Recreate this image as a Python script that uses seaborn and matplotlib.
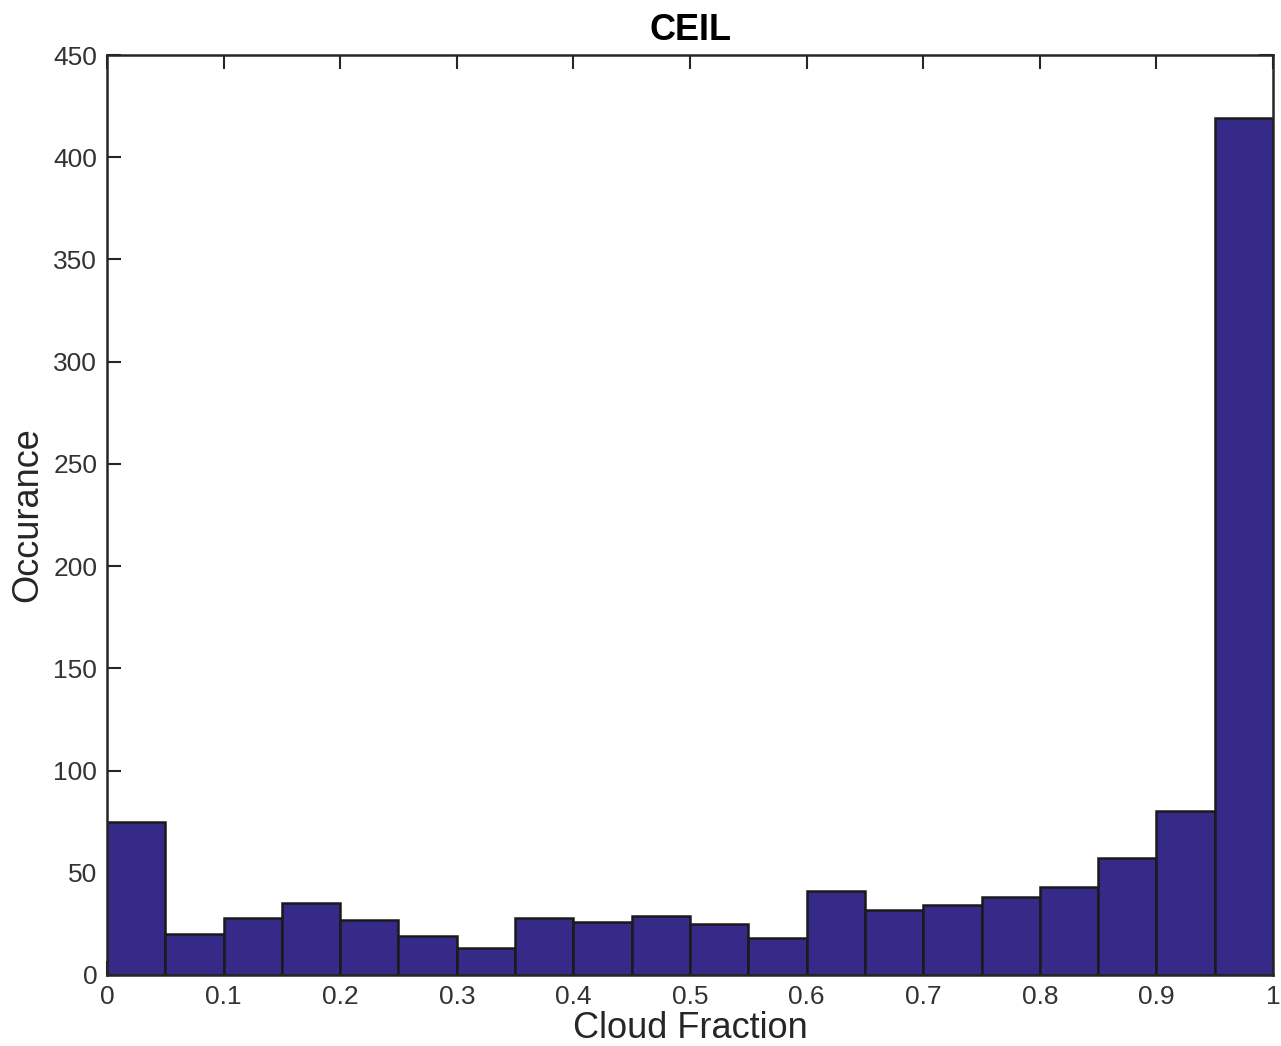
import matplotlib
matplotlib.use("Agg")
import matplotlib.pyplot as plt
import seaborn as sns
import numpy as np
import pandas as pd

bin_edges = [round(i * 0.05, 2) for i in range(21)]
bin_centers = [round(0.025 + i * 0.05, 3) for i in range(20)]
counts = [75, 20, 28, 35, 27, 19, 13, 28, 26, 29, 25, 18, 41, 32, 34, 38, 43, 57, 80, 419]
x_ticks = [0, 0.1, 0.2, 0.3, 0.4, 0.5, 0.6, 0.7, 0.8, 0.9, 1]
x_tick_labels = ["0", "0.1", "0.2", "0.3", "0.4", "0.5", "0.6", "0.7", "0.8", "0.9", "1"]
y_ticks = [0, 50, 100, 150, 200, 250, 300, 350, 400, 450]

sns.set_style("white")
plt.rcParams['font.family'] = ['Liberation Sans', 'DejaVu Sans']

df = pd.DataFrame({"center": bin_centers, "count": counts})

fig = plt.figure(figsize=(12.81, 10.46), dpi=100)
ax = fig.add_axes([0.0835, 0.0679, 0.9103, 0.8795])

sns.histplot(data=df, x="center", weights="count", bins=bin_edges, ax=ax,
             color="#352a87", alpha=1.0, edgecolor="#1a1a1a", linewidth=1.8)

ax.set_xlim(0, 1)
ax.set_ylim(0, 450)
ax.set_xticks(x_ticks)
ax.set_xticklabels(x_tick_labels)
ax.set_yticks(y_ticks)
ax.tick_params(direction="in", length=10, width=1.5, color="#262626",
               labelsize=19, labelcolor="#333333", top=True, right=True,
               bottom=True, left=True, pad=7)
for s in ax.spines.values():
    s.set_linewidth(1.8)
    s.set_color("#262626")
    s.set_visible(True)

ax.set_xlabel("Cloud Fraction", fontsize=26, color="#262626", labelpad=2)
ax.set_ylabel("Occurance", fontsize=26, color="#262626", labelpad=6)
ax.set_title("CEIL", fontsize=26, fontweight="bold", color="black", pad=11)

fig.savefig("out.png", dpi=100)
